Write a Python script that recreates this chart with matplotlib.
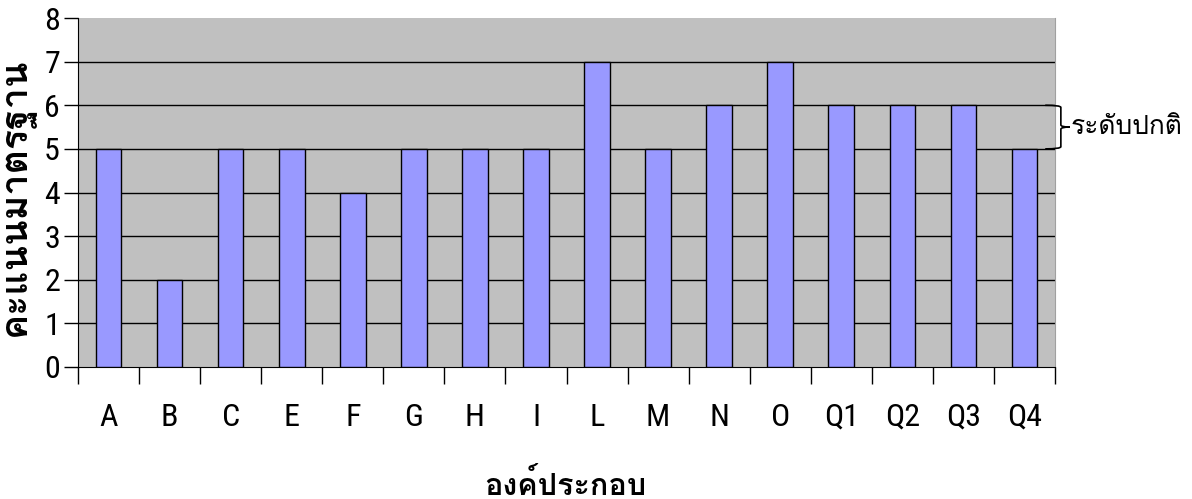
import matplotlib
matplotlib.use('Agg')
import matplotlib.pyplot as plt
from matplotlib.path import Path
from matplotlib.patches import PathPatch
import numpy as np

categories = ['A', 'B', 'C', 'E', 'F', 'G', 'H', 'I', 'L', 'M', 'N', 'O', 'Q1', 'Q2', 'Q3', 'Q4']
scores = [5, 2, 5, 5, 4, 5, 5, 5, 7, 5, 6, 7, 6, 6, 6, 5]
normal_low, normal_high = 5, 6

thai_fonts = ['Loma', 'Noto Sans Thai Looped', 'DejaVu Sans']
tick_fonts = ['Roboto Condensed', 'Barlow Semi Condensed', 'Liberation Sans']

fig = plt.figure(figsize=(11.92, 4.99), dpi=100)
ax = fig.add_axes([78/1192, 1 - 367/499, (1055 - 78)/1192, (367 - 18)/499])
ax.set_facecolor('#c0c0c0')
x = np.arange(len(categories))
ax.bar(x, scores, width=0.42, color='#9999ff', edgecolor='black', linewidth=1, zorder=3)
ax.set_xlim(-0.5, len(categories) - 0.5)
ax.set_ylim(0, 8)
ax.set_yticks(range(0, 9))
for y in range(1, 8):
    ax.axhline(y, color='black', linewidth=1, zorder=1)
ax.set_xticks(np.arange(-0.5, len(categories), 1.0))
ax.set_xticklabels([])
ax.tick_params(axis='x', length=12, direction='out', width=1)
ax.tick_params(axis='y', length=10, direction='out', width=1, labelsize=23, pad=3)
for lab in ax.get_yticklabels():
    lab.set_family(tick_fonts)
for i, c in enumerate(categories):
    ax.text(i, -1.15, c, ha='center', va='center', fontsize=23,
            family=tick_fonts, clip_on=False)
ax.spines['top'].set_visible(False)
ax.spines['right'].set_color('#a0a0a0')

fig.text(565/1192, 1 - 485/499, 'องค์ประกอบ', ha='center', va='center',
         fontsize=22, fontweight='bold', family=thai_fonts)
fig.text(18/1192, 1 - 197/499, 'คะแนนมาตรฐาน', ha='center', va='center',
         rotation=90, fontsize=27, fontweight='bold', family=thai_fonts)

# curly brace marking the normal range
tr = ax.get_yaxis_transform()
x0, x1, xm = 0.990, 1.006, 1.015
ym = (normal_low + normal_high) / 2
verts = [(x0, normal_high), (x1, normal_high), (x1, normal_high - 0.05),
         (x1, ym + 0.05), (x1, ym), (xm, ym),
         (x1, ym), (x1, ym - 0.05), (x1, normal_low + 0.05),
         (x1, normal_low), (x0, normal_low)]
codes = [Path.MOVETO, Path.CURVE3, Path.CURVE3, Path.LINETO, Path.CURVE3, Path.CURVE3,
         Path.CURVE3, Path.CURVE3, Path.LINETO, Path.CURVE3, Path.CURVE3]
ax.add_patch(PathPatch(Path(verts, codes), transform=tr, fill=False,
                       edgecolor='black', linewidth=1.2, clip_on=False, zorder=4))
ax.text(1.016, ym, 'ระดับปกติ', transform=tr, ha='left', va='center',
        fontsize=19, family=thai_fonts, clip_on=False)

fig.savefig('out.png', dpi=100)
